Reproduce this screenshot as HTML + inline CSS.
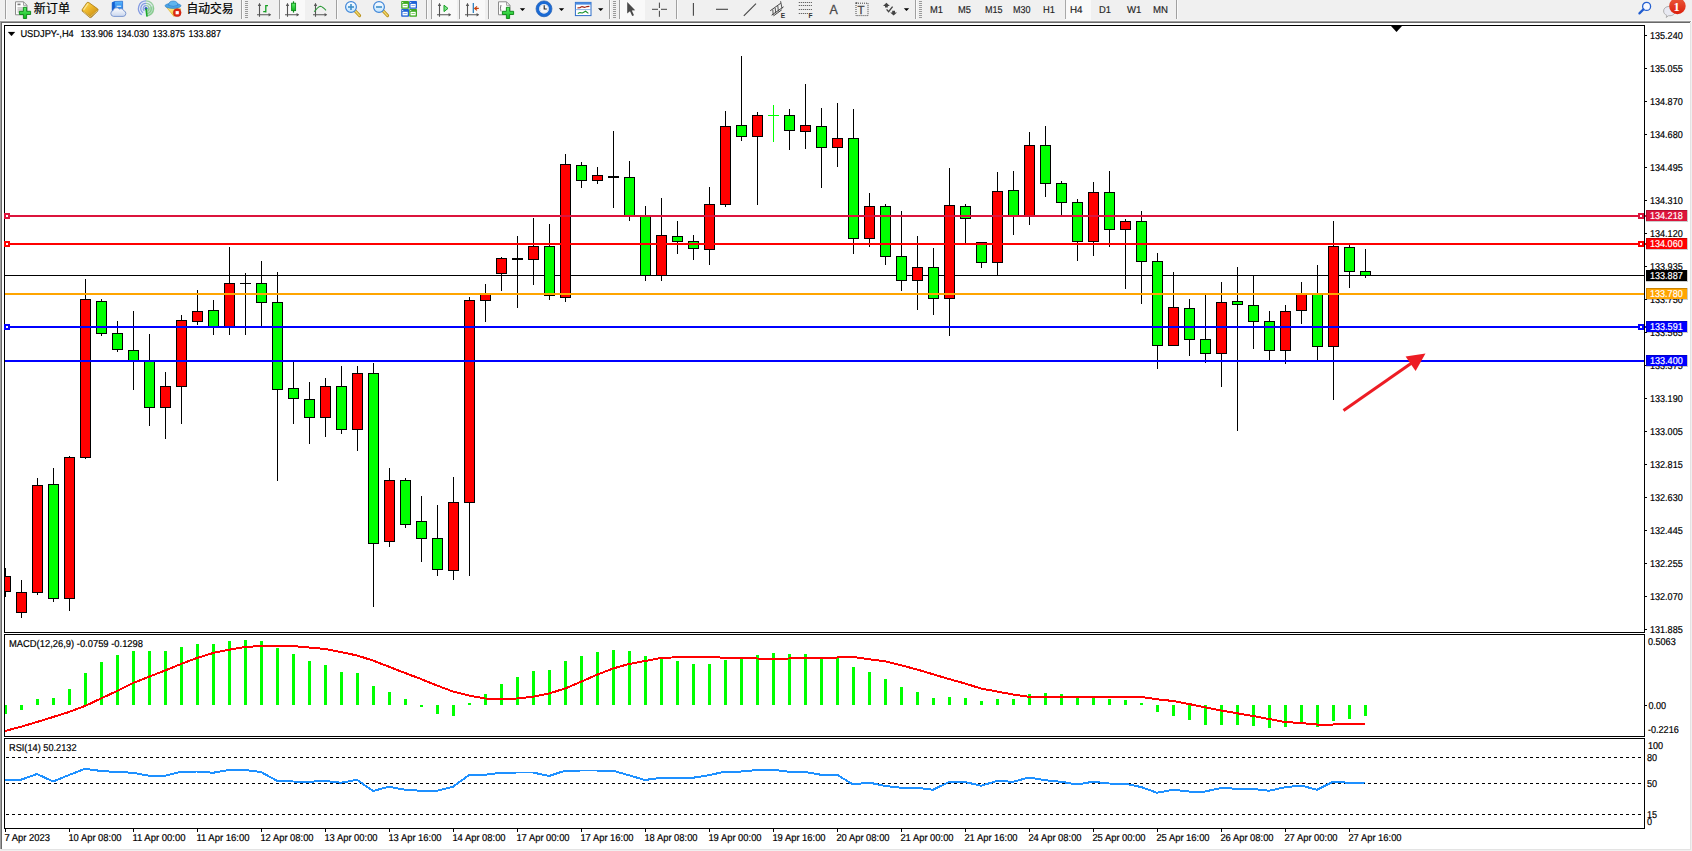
<!DOCTYPE html>
<html><head><meta charset="utf-8"><title>USDJPY-,H4</title>
<style>
html,body{margin:0;padding:0;background:#fff;overflow:hidden}
body{width:1692px;height:851px;font-family:"Liberation Sans","Noto Sans CJK SC",sans-serif}
svg{display:block}
</style></head><body>
<svg width="1692" height="851" viewBox="0 0 1692 851">
<g shape-rendering="crispEdges">
<rect x="0" y="0" width="1692" height="851" fill="#fff"/>
<rect x="0" y="0" width="1692" height="21" fill="#f0f0f0"/>
<rect x="0" y="20" width="1692" height="1" fill="#f7f7f7"/>
<rect x="0" y="21" width="1691" height="1" fill="#a0a0a0"/>
<rect x="0" y="22" width="1690" height="1" fill="#696969"/>
<rect x="0" y="21" width="1" height="830" fill="#a0a0a0"/>
<rect x="1" y="22" width="1" height="828" fill="#696969"/>
<rect x="1690" y="22" width="2" height="829" fill="#f0f0f0"/>
<rect x="0" y="849" width="1692" height="2" fill="#f0f0f0"/>
<rect x="1" y="849" width="1690" height="1" fill="#e3e3e3"/>
<rect x="1690" y="23" width="1" height="827" fill="#e3e3e3"/>
<rect x="4" y="25" width="1641" height="1" fill="#000"/>
<rect x="4" y="632" width="1641" height="1" fill="#000"/>
<rect x="4" y="25" width="1" height="608" fill="#000"/>
<rect x="1644" y="25" width="1" height="608" fill="#000"/>
<rect x="4" y="634" width="1641" height="1" fill="#000"/>
<rect x="4" y="736" width="1641" height="1" fill="#000"/>
<rect x="4" y="634" width="1" height="103" fill="#000"/>
<rect x="1644" y="634" width="1" height="103" fill="#000"/>
<rect x="4" y="738" width="1641" height="1" fill="#000"/>
<rect x="4" y="828" width="1641" height="1" fill="#000"/>
<rect x="4" y="738" width="1" height="91" fill="#000"/>
<rect x="1644" y="738" width="1" height="91" fill="#000"/>
<rect x="5" y="275" width="1639" height="1" fill="#000"/>
<clipPath id="cc"><rect x="5" y="26" width="1639" height="606"/></clipPath>
<g id="candles" clip-path="url(#cc)">
<rect x="5" y="568" width="1" height="29" fill="#000"/>
<rect x="0" y="576" width="11" height="16" fill="#000"/>
<rect x="1" y="577" width="9" height="14" fill="#ff0000"/>
<rect x="21" y="580" width="1" height="38" fill="#000"/>
<rect x="16" y="592" width="11" height="21" fill="#000"/>
<rect x="17" y="593" width="9" height="19" fill="#ff0000"/>
<rect x="37" y="478" width="1" height="117" fill="#000"/>
<rect x="32" y="485" width="11" height="108" fill="#000"/>
<rect x="33" y="486" width="9" height="106" fill="#ff0000"/>
<rect x="53" y="468" width="1" height="134" fill="#000"/>
<rect x="48" y="484" width="11" height="115" fill="#000"/>
<rect x="49" y="485" width="9" height="113" fill="#00ff00"/>
<rect x="69" y="456" width="1" height="155" fill="#000"/>
<rect x="64" y="457" width="11" height="142" fill="#000"/>
<rect x="65" y="458" width="9" height="140" fill="#ff0000"/>
<rect x="85" y="279" width="1" height="180" fill="#000"/>
<rect x="80" y="299" width="11" height="159" fill="#000"/>
<rect x="81" y="300" width="9" height="157" fill="#ff0000"/>
<rect x="101" y="299" width="1" height="37" fill="#000"/>
<rect x="96" y="301" width="11" height="33" fill="#000"/>
<rect x="97" y="302" width="9" height="31" fill="#00ff00"/>
<rect x="117" y="321" width="1" height="31" fill="#000"/>
<rect x="112" y="333" width="11" height="17" fill="#000"/>
<rect x="113" y="334" width="9" height="15" fill="#00ff00"/>
<rect x="133" y="311" width="1" height="79" fill="#000"/>
<rect x="128" y="350" width="11" height="11" fill="#000"/>
<rect x="129" y="351" width="9" height="9" fill="#00ff00"/>
<rect x="149" y="334" width="1" height="92" fill="#000"/>
<rect x="144" y="360" width="11" height="48" fill="#000"/>
<rect x="145" y="361" width="9" height="46" fill="#00ff00"/>
<rect x="165" y="372" width="1" height="67" fill="#000"/>
<rect x="160" y="386" width="11" height="22" fill="#000"/>
<rect x="161" y="387" width="9" height="20" fill="#ff0000"/>
<rect x="181" y="315" width="1" height="109" fill="#000"/>
<rect x="176" y="320" width="11" height="67" fill="#000"/>
<rect x="177" y="321" width="9" height="65" fill="#ff0000"/>
<rect x="197" y="290" width="1" height="35" fill="#000"/>
<rect x="192" y="311" width="11" height="11" fill="#000"/>
<rect x="193" y="312" width="9" height="9" fill="#ff0000"/>
<rect x="213" y="300" width="1" height="35" fill="#000"/>
<rect x="208" y="310" width="11" height="17" fill="#000"/>
<rect x="209" y="311" width="9" height="15" fill="#00ff00"/>
<rect x="229" y="247" width="1" height="88" fill="#000"/>
<rect x="224" y="283" width="11" height="44" fill="#000"/>
<rect x="225" y="284" width="9" height="42" fill="#ff0000"/>
<rect x="245" y="273" width="1" height="62" fill="#000"/>
<rect x="240" y="283" width="11" height="1" fill="#000"/>
<rect x="261" y="261" width="1" height="66" fill="#000"/>
<rect x="256" y="283" width="11" height="20" fill="#000"/>
<rect x="257" y="284" width="9" height="18" fill="#00ff00"/>
<rect x="277" y="272" width="1" height="209" fill="#000"/>
<rect x="272" y="302" width="11" height="88" fill="#000"/>
<rect x="273" y="303" width="9" height="86" fill="#00ff00"/>
<rect x="293" y="362" width="1" height="62" fill="#000"/>
<rect x="288" y="388" width="11" height="11" fill="#000"/>
<rect x="289" y="389" width="9" height="9" fill="#00ff00"/>
<rect x="309" y="382" width="1" height="62" fill="#000"/>
<rect x="304" y="399" width="11" height="19" fill="#000"/>
<rect x="305" y="400" width="9" height="17" fill="#00ff00"/>
<rect x="325" y="378" width="1" height="59" fill="#000"/>
<rect x="320" y="386" width="11" height="32" fill="#000"/>
<rect x="321" y="387" width="9" height="30" fill="#ff0000"/>
<rect x="341" y="366" width="1" height="68" fill="#000"/>
<rect x="336" y="386" width="11" height="44" fill="#000"/>
<rect x="337" y="387" width="9" height="42" fill="#00ff00"/>
<rect x="357" y="366" width="1" height="85" fill="#000"/>
<rect x="352" y="373" width="11" height="57" fill="#000"/>
<rect x="353" y="374" width="9" height="55" fill="#ff0000"/>
<rect x="373" y="363" width="1" height="244" fill="#000"/>
<rect x="368" y="373" width="11" height="171" fill="#000"/>
<rect x="369" y="374" width="9" height="169" fill="#00ff00"/>
<rect x="389" y="468" width="1" height="79" fill="#000"/>
<rect x="384" y="480" width="11" height="62" fill="#000"/>
<rect x="385" y="481" width="9" height="60" fill="#ff0000"/>
<rect x="405" y="478" width="1" height="50" fill="#000"/>
<rect x="400" y="480" width="11" height="45" fill="#000"/>
<rect x="401" y="481" width="9" height="43" fill="#00ff00"/>
<rect x="421" y="496" width="1" height="66" fill="#000"/>
<rect x="416" y="521" width="11" height="18" fill="#000"/>
<rect x="417" y="522" width="9" height="16" fill="#00ff00"/>
<rect x="437" y="505" width="1" height="71" fill="#000"/>
<rect x="432" y="538" width="11" height="32" fill="#000"/>
<rect x="433" y="539" width="9" height="30" fill="#00ff00"/>
<rect x="453" y="477" width="1" height="103" fill="#000"/>
<rect x="448" y="502" width="11" height="69" fill="#000"/>
<rect x="449" y="503" width="9" height="67" fill="#ff0000"/>
<rect x="469" y="297" width="1" height="279" fill="#000"/>
<rect x="464" y="300" width="11" height="203" fill="#000"/>
<rect x="465" y="301" width="9" height="201" fill="#ff0000"/>
<rect x="485" y="284" width="1" height="38" fill="#000"/>
<rect x="480" y="294" width="11" height="7" fill="#000"/>
<rect x="481" y="295" width="9" height="5" fill="#ff0000"/>
<rect x="501" y="257" width="1" height="34" fill="#000"/>
<rect x="496" y="258" width="11" height="16" fill="#000"/>
<rect x="497" y="259" width="9" height="14" fill="#ff0000"/>
<rect x="517" y="236" width="1" height="72" fill="#000"/>
<rect x="512" y="258" width="11" height="2" fill="#000"/>
<rect x="533" y="218" width="1" height="67" fill="#000"/>
<rect x="528" y="246" width="11" height="14" fill="#000"/>
<rect x="529" y="247" width="9" height="12" fill="#ff0000"/>
<rect x="549" y="224" width="1" height="76" fill="#000"/>
<rect x="544" y="246" width="11" height="50" fill="#000"/>
<rect x="545" y="247" width="9" height="48" fill="#00ff00"/>
<rect x="565" y="154" width="1" height="148" fill="#000"/>
<rect x="560" y="164" width="11" height="134" fill="#000"/>
<rect x="561" y="165" width="9" height="132" fill="#ff0000"/>
<rect x="581" y="162" width="1" height="26" fill="#000"/>
<rect x="576" y="165" width="11" height="16" fill="#000"/>
<rect x="577" y="166" width="9" height="14" fill="#00ff00"/>
<rect x="597" y="167" width="1" height="17" fill="#000"/>
<rect x="592" y="175" width="11" height="6" fill="#000"/>
<rect x="593" y="176" width="9" height="4" fill="#ff0000"/>
<rect x="613" y="131" width="1" height="77" fill="#000"/>
<rect x="608" y="176" width="11" height="2" fill="#000"/>
<rect x="629" y="161" width="1" height="60" fill="#000"/>
<rect x="624" y="177" width="11" height="39" fill="#000"/>
<rect x="625" y="178" width="9" height="37" fill="#00ff00"/>
<rect x="645" y="206" width="1" height="75" fill="#000"/>
<rect x="640" y="216" width="11" height="60" fill="#000"/>
<rect x="641" y="217" width="9" height="58" fill="#00ff00"/>
<rect x="661" y="198" width="1" height="83" fill="#000"/>
<rect x="656" y="235" width="11" height="41" fill="#000"/>
<rect x="657" y="236" width="9" height="39" fill="#ff0000"/>
<rect x="677" y="221" width="1" height="33" fill="#000"/>
<rect x="672" y="236" width="11" height="6" fill="#000"/>
<rect x="673" y="237" width="9" height="4" fill="#00ff00"/>
<rect x="693" y="235" width="1" height="25" fill="#000"/>
<rect x="688" y="241" width="11" height="8" fill="#000"/>
<rect x="689" y="242" width="9" height="6" fill="#00ff00"/>
<rect x="709" y="187" width="1" height="78" fill="#000"/>
<rect x="704" y="204" width="11" height="46" fill="#000"/>
<rect x="705" y="205" width="9" height="44" fill="#ff0000"/>
<rect x="725" y="111" width="1" height="96" fill="#000"/>
<rect x="720" y="126" width="11" height="79" fill="#000"/>
<rect x="721" y="127" width="9" height="77" fill="#ff0000"/>
<rect x="741" y="56" width="1" height="85" fill="#000"/>
<rect x="736" y="125" width="11" height="12" fill="#000"/>
<rect x="737" y="126" width="9" height="10" fill="#00ff00"/>
<rect x="757" y="112" width="1" height="93" fill="#000"/>
<rect x="752" y="115" width="11" height="22" fill="#000"/>
<rect x="753" y="116" width="9" height="20" fill="#ff0000"/>
<rect x="773" y="105" width="1" height="37" fill="#00ff00"/>
<rect x="768" y="115" width="11" height="1" fill="#00ff00"/>
<rect x="789" y="109" width="1" height="41" fill="#000"/>
<rect x="784" y="115" width="11" height="16" fill="#000"/>
<rect x="785" y="116" width="9" height="14" fill="#00ff00"/>
<rect x="805" y="84" width="1" height="65" fill="#000"/>
<rect x="800" y="125" width="11" height="7" fill="#000"/>
<rect x="801" y="126" width="9" height="5" fill="#ff0000"/>
<rect x="821" y="108" width="1" height="80" fill="#000"/>
<rect x="816" y="126" width="11" height="22" fill="#000"/>
<rect x="817" y="127" width="9" height="20" fill="#00ff00"/>
<rect x="837" y="103" width="1" height="64" fill="#000"/>
<rect x="832" y="138" width="11" height="10" fill="#000"/>
<rect x="833" y="139" width="9" height="8" fill="#ff0000"/>
<rect x="853" y="109" width="1" height="145" fill="#000"/>
<rect x="848" y="138" width="11" height="101" fill="#000"/>
<rect x="849" y="139" width="9" height="99" fill="#00ff00"/>
<rect x="869" y="193" width="1" height="54" fill="#000"/>
<rect x="864" y="206" width="11" height="33" fill="#000"/>
<rect x="865" y="207" width="9" height="31" fill="#ff0000"/>
<rect x="885" y="204" width="1" height="61" fill="#000"/>
<rect x="880" y="206" width="11" height="51" fill="#000"/>
<rect x="881" y="207" width="9" height="49" fill="#00ff00"/>
<rect x="901" y="211" width="1" height="80" fill="#000"/>
<rect x="896" y="256" width="11" height="25" fill="#000"/>
<rect x="897" y="257" width="9" height="23" fill="#00ff00"/>
<rect x="917" y="236" width="1" height="74" fill="#000"/>
<rect x="912" y="267" width="11" height="14" fill="#000"/>
<rect x="913" y="268" width="9" height="12" fill="#ff0000"/>
<rect x="933" y="248" width="1" height="67" fill="#000"/>
<rect x="928" y="267" width="11" height="32" fill="#000"/>
<rect x="929" y="268" width="9" height="30" fill="#00ff00"/>
<rect x="949" y="168" width="1" height="168" fill="#000"/>
<rect x="944" y="205" width="11" height="94" fill="#000"/>
<rect x="945" y="206" width="9" height="92" fill="#ff0000"/>
<rect x="965" y="204" width="1" height="39" fill="#000"/>
<rect x="960" y="206" width="11" height="13" fill="#000"/>
<rect x="961" y="207" width="9" height="11" fill="#00ff00"/>
<rect x="981" y="242" width="1" height="26" fill="#000"/>
<rect x="976" y="242" width="11" height="21" fill="#000"/>
<rect x="977" y="243" width="9" height="19" fill="#00ff00"/>
<rect x="997" y="172" width="1" height="103" fill="#000"/>
<rect x="992" y="191" width="11" height="72" fill="#000"/>
<rect x="993" y="192" width="9" height="70" fill="#ff0000"/>
<rect x="1013" y="171" width="1" height="64" fill="#000"/>
<rect x="1008" y="190" width="11" height="26" fill="#000"/>
<rect x="1009" y="191" width="9" height="24" fill="#00ff00"/>
<rect x="1029" y="132" width="1" height="93" fill="#000"/>
<rect x="1024" y="145" width="11" height="71" fill="#000"/>
<rect x="1025" y="146" width="9" height="69" fill="#ff0000"/>
<rect x="1045" y="126" width="1" height="71" fill="#000"/>
<rect x="1040" y="145" width="11" height="39" fill="#000"/>
<rect x="1041" y="146" width="9" height="37" fill="#00ff00"/>
<rect x="1061" y="181" width="1" height="35" fill="#000"/>
<rect x="1056" y="183" width="11" height="20" fill="#000"/>
<rect x="1057" y="184" width="9" height="18" fill="#00ff00"/>
<rect x="1077" y="199" width="1" height="62" fill="#000"/>
<rect x="1072" y="202" width="11" height="40" fill="#000"/>
<rect x="1073" y="203" width="9" height="38" fill="#00ff00"/>
<rect x="1093" y="182" width="1" height="74" fill="#000"/>
<rect x="1088" y="192" width="11" height="50" fill="#000"/>
<rect x="1089" y="193" width="9" height="48" fill="#ff0000"/>
<rect x="1109" y="171" width="1" height="76" fill="#000"/>
<rect x="1104" y="192" width="11" height="38" fill="#000"/>
<rect x="1105" y="193" width="9" height="36" fill="#00ff00"/>
<rect x="1125" y="219" width="1" height="70" fill="#000"/>
<rect x="1120" y="221" width="11" height="9" fill="#000"/>
<rect x="1121" y="222" width="9" height="7" fill="#ff0000"/>
<rect x="1141" y="211" width="1" height="93" fill="#000"/>
<rect x="1136" y="221" width="11" height="41" fill="#000"/>
<rect x="1137" y="222" width="9" height="39" fill="#00ff00"/>
<rect x="1157" y="253" width="1" height="116" fill="#000"/>
<rect x="1152" y="261" width="11" height="85" fill="#000"/>
<rect x="1153" y="262" width="9" height="83" fill="#00ff00"/>
<rect x="1173" y="272" width="1" height="74" fill="#000"/>
<rect x="1168" y="307" width="11" height="39" fill="#000"/>
<rect x="1169" y="308" width="9" height="37" fill="#ff0000"/>
<rect x="1189" y="299" width="1" height="57" fill="#000"/>
<rect x="1184" y="308" width="11" height="32" fill="#000"/>
<rect x="1185" y="309" width="9" height="30" fill="#00ff00"/>
<rect x="1205" y="295" width="1" height="68" fill="#000"/>
<rect x="1200" y="339" width="11" height="15" fill="#000"/>
<rect x="1201" y="340" width="9" height="13" fill="#00ff00"/>
<rect x="1221" y="282" width="1" height="105" fill="#000"/>
<rect x="1216" y="302" width="11" height="52" fill="#000"/>
<rect x="1217" y="303" width="9" height="50" fill="#ff0000"/>
<rect x="1237" y="267" width="1" height="164" fill="#000"/>
<rect x="1232" y="301" width="11" height="4" fill="#000"/>
<rect x="1233" y="302" width="9" height="2" fill="#00ff00"/>
<rect x="1253" y="275" width="1" height="74" fill="#000"/>
<rect x="1248" y="305" width="11" height="17" fill="#000"/>
<rect x="1249" y="306" width="9" height="15" fill="#00ff00"/>
<rect x="1269" y="311" width="1" height="50" fill="#000"/>
<rect x="1264" y="321" width="11" height="30" fill="#000"/>
<rect x="1265" y="322" width="9" height="28" fill="#00ff00"/>
<rect x="1285" y="305" width="1" height="59" fill="#000"/>
<rect x="1280" y="311" width="11" height="40" fill="#000"/>
<rect x="1281" y="312" width="9" height="38" fill="#ff0000"/>
<rect x="1301" y="282" width="1" height="42" fill="#000"/>
<rect x="1296" y="293" width="11" height="18" fill="#000"/>
<rect x="1297" y="294" width="9" height="16" fill="#ff0000"/>
<rect x="1317" y="265" width="1" height="96" fill="#000"/>
<rect x="1312" y="293" width="11" height="54" fill="#000"/>
<rect x="1313" y="294" width="9" height="52" fill="#00ff00"/>
<rect x="1333" y="221" width="1" height="179" fill="#000"/>
<rect x="1328" y="246" width="11" height="101" fill="#000"/>
<rect x="1329" y="247" width="9" height="99" fill="#ff0000"/>
<rect x="1349" y="245" width="1" height="43" fill="#000"/>
<rect x="1344" y="247" width="11" height="25" fill="#000"/>
<rect x="1345" y="248" width="9" height="23" fill="#00ff00"/>
<rect x="1365" y="249" width="1" height="29" fill="#000"/>
<rect x="1360" y="271" width="11" height="5" fill="#000"/>
<rect x="1361" y="272" width="9" height="3" fill="#00ff00"/>
</g>
<rect x="5" y="215" width="1639" height="2" fill="#dc143c"/>
<rect x="1645" y="215" width="1" height="2" fill="#dc143c"/>
<rect x="4" y="213" width="6" height="6" fill="#dc143c"/>
<rect x="6" y="215" width="2" height="2" fill="#fff"/>
<rect x="1638" y="213" width="6" height="6" fill="#dc143c"/>
<rect x="1640" y="215" width="2" height="2" fill="#fff"/>
<rect x="5" y="243" width="1639" height="2" fill="#ff0000"/>
<rect x="1645" y="243" width="1" height="2" fill="#ff0000"/>
<rect x="4" y="241" width="6" height="6" fill="#ff0000"/>
<rect x="6" y="243" width="2" height="2" fill="#fff"/>
<rect x="1638" y="241" width="6" height="6" fill="#ff0000"/>
<rect x="1640" y="243" width="2" height="2" fill="#fff"/>
<rect x="5" y="293" width="1639" height="2" fill="#ffa500"/>
<rect x="5" y="326" width="1639" height="2" fill="#0000ff"/>
<rect x="1645" y="326" width="1" height="2" fill="#0000ff"/>
<rect x="4" y="324" width="6" height="6" fill="#0000ff"/>
<rect x="6" y="326" width="2" height="2" fill="#fff"/>
<rect x="1638" y="324" width="6" height="6" fill="#0000ff"/>
<rect x="1640" y="326" width="2" height="2" fill="#fff"/>
<rect x="5" y="360" width="1639" height="2" fill="#0000ff"/>
<polygon points="1391,26 1402,26 1396.5,32" fill="#000" shape-rendering="geometricPrecision"/>
<rect x="4" y="705" width="3" height="9" fill="#00ff00"/>
<rect x="20" y="705" width="3" height="5" fill="#00ff00"/>
<rect x="36" y="699" width="3" height="6" fill="#00ff00"/>
<rect x="52" y="698" width="3" height="7" fill="#00ff00"/>
<rect x="68" y="689" width="3" height="16" fill="#00ff00"/>
<rect x="84" y="673" width="3" height="32" fill="#00ff00"/>
<rect x="100" y="662" width="3" height="43" fill="#00ff00"/>
<rect x="116" y="655" width="3" height="50" fill="#00ff00"/>
<rect x="132" y="651" width="3" height="54" fill="#00ff00"/>
<rect x="148" y="651" width="3" height="54" fill="#00ff00"/>
<rect x="164" y="651" width="3" height="54" fill="#00ff00"/>
<rect x="180" y="647" width="3" height="58" fill="#00ff00"/>
<rect x="196" y="644" width="3" height="61" fill="#00ff00"/>
<rect x="212" y="644" width="3" height="61" fill="#00ff00"/>
<rect x="228" y="641" width="3" height="64" fill="#00ff00"/>
<rect x="244" y="640" width="3" height="65" fill="#00ff00"/>
<rect x="260" y="641" width="3" height="64" fill="#00ff00"/>
<rect x="276" y="648" width="3" height="57" fill="#00ff00"/>
<rect x="292" y="654" width="3" height="51" fill="#00ff00"/>
<rect x="308" y="661" width="3" height="44" fill="#00ff00"/>
<rect x="324" y="665" width="3" height="40" fill="#00ff00"/>
<rect x="340" y="672" width="3" height="33" fill="#00ff00"/>
<rect x="356" y="673" width="3" height="32" fill="#00ff00"/>
<rect x="372" y="686" width="3" height="19" fill="#00ff00"/>
<rect x="388" y="692" width="3" height="13" fill="#00ff00"/>
<rect x="404" y="699" width="3" height="6" fill="#00ff00"/>
<rect x="420" y="705" width="3" height="2" fill="#00ff00"/>
<rect x="436" y="705" width="3" height="9" fill="#00ff00"/>
<rect x="452" y="705" width="3" height="11" fill="#00ff00"/>
<rect x="468" y="703" width="3" height="2" fill="#00ff00"/>
<rect x="484" y="694" width="3" height="11" fill="#00ff00"/>
<rect x="500" y="684" width="3" height="21" fill="#00ff00"/>
<rect x="516" y="677" width="3" height="28" fill="#00ff00"/>
<rect x="532" y="671" width="3" height="34" fill="#00ff00"/>
<rect x="548" y="670" width="3" height="35" fill="#00ff00"/>
<rect x="564" y="661" width="3" height="44" fill="#00ff00"/>
<rect x="580" y="656" width="3" height="49" fill="#00ff00"/>
<rect x="596" y="652" width="3" height="53" fill="#00ff00"/>
<rect x="612" y="650" width="3" height="55" fill="#00ff00"/>
<rect x="628" y="651" width="3" height="54" fill="#00ff00"/>
<rect x="644" y="656" width="3" height="49" fill="#00ff00"/>
<rect x="660" y="658" width="3" height="47" fill="#00ff00"/>
<rect x="676" y="661" width="3" height="44" fill="#00ff00"/>
<rect x="692" y="664" width="3" height="41" fill="#00ff00"/>
<rect x="708" y="664" width="3" height="41" fill="#00ff00"/>
<rect x="724" y="660" width="3" height="45" fill="#00ff00"/>
<rect x="740" y="658" width="3" height="47" fill="#00ff00"/>
<rect x="756" y="655" width="3" height="50" fill="#00ff00"/>
<rect x="772" y="653" width="3" height="52" fill="#00ff00"/>
<rect x="788" y="654" width="3" height="51" fill="#00ff00"/>
<rect x="804" y="654" width="3" height="51" fill="#00ff00"/>
<rect x="820" y="657" width="3" height="48" fill="#00ff00"/>
<rect x="836" y="658" width="3" height="47" fill="#00ff00"/>
<rect x="852" y="667" width="3" height="38" fill="#00ff00"/>
<rect x="868" y="672" width="3" height="33" fill="#00ff00"/>
<rect x="884" y="679" width="3" height="26" fill="#00ff00"/>
<rect x="900" y="687" width="3" height="18" fill="#00ff00"/>
<rect x="916" y="692" width="3" height="13" fill="#00ff00"/>
<rect x="932" y="698" width="3" height="7" fill="#00ff00"/>
<rect x="948" y="697" width="3" height="8" fill="#00ff00"/>
<rect x="964" y="698" width="3" height="7" fill="#00ff00"/>
<rect x="980" y="701" width="3" height="4" fill="#00ff00"/>
<rect x="996" y="699" width="3" height="6" fill="#00ff00"/>
<rect x="1012" y="699" width="3" height="6" fill="#00ff00"/>
<rect x="1028" y="694" width="3" height="11" fill="#00ff00"/>
<rect x="1044" y="693" width="3" height="12" fill="#00ff00"/>
<rect x="1060" y="694" width="3" height="11" fill="#00ff00"/>
<rect x="1076" y="697" width="3" height="8" fill="#00ff00"/>
<rect x="1092" y="697" width="3" height="8" fill="#00ff00"/>
<rect x="1108" y="699" width="3" height="6" fill="#00ff00"/>
<rect x="1124" y="700" width="3" height="5" fill="#00ff00"/>
<rect x="1140" y="703" width="3" height="2" fill="#00ff00"/>
<rect x="1156" y="705" width="3" height="7" fill="#00ff00"/>
<rect x="1172" y="705" width="3" height="11" fill="#00ff00"/>
<rect x="1188" y="705" width="3" height="15" fill="#00ff00"/>
<rect x="1204" y="705" width="3" height="20" fill="#00ff00"/>
<rect x="1220" y="705" width="3" height="20" fill="#00ff00"/>
<rect x="1236" y="705" width="3" height="20" fill="#00ff00"/>
<rect x="1252" y="705" width="3" height="21" fill="#00ff00"/>
<rect x="1268" y="705" width="3" height="23" fill="#00ff00"/>
<rect x="1284" y="705" width="3" height="22" fill="#00ff00"/>
<rect x="1300" y="705" width="3" height="19" fill="#00ff00"/>
<rect x="1316" y="705" width="3" height="22" fill="#00ff00"/>
<rect x="1332" y="705" width="3" height="16" fill="#00ff00"/>
<rect x="1348" y="705" width="3" height="14" fill="#00ff00"/>
<rect x="1364" y="705" width="3" height="11" fill="#00ff00"/>
<rect x="4" y="634" width="1" height="103" fill="#000"/>
<rect x="1645" y="35" width="2" height="1" fill="#000"/>
<rect x="1645" y="68" width="2" height="1" fill="#000"/>
<rect x="1645" y="101" width="2" height="1" fill="#000"/>
<rect x="1645" y="134" width="2" height="1" fill="#000"/>
<rect x="1645" y="167" width="2" height="1" fill="#000"/>
<rect x="1645" y="200" width="2" height="1" fill="#000"/>
<rect x="1645" y="233" width="2" height="1" fill="#000"/>
<rect x="1645" y="266" width="2" height="1" fill="#000"/>
<rect x="1645" y="299" width="2" height="1" fill="#000"/>
<rect x="1645" y="332" width="2" height="1" fill="#000"/>
<rect x="1645" y="365" width="2" height="1" fill="#000"/>
<rect x="1645" y="398" width="2" height="1" fill="#000"/>
<rect x="1645" y="431" width="2" height="1" fill="#000"/>
<rect x="1645" y="464" width="2" height="1" fill="#000"/>
<rect x="1645" y="497" width="2" height="1" fill="#000"/>
<rect x="1645" y="530" width="2" height="1" fill="#000"/>
<rect x="1645" y="563" width="2" height="1" fill="#000"/>
<rect x="1645" y="596" width="2" height="1" fill="#000"/>
<rect x="1645" y="629" width="2" height="1" fill="#000"/>
<rect x="1645" y="705" width="2" height="1" fill="#000"/>
<rect x="5" y="829" width="1" height="3" fill="#000"/>
<rect x="69" y="829" width="1" height="3" fill="#000"/>
<rect x="133" y="829" width="1" height="3" fill="#000"/>
<rect x="197" y="829" width="1" height="3" fill="#000"/>
<rect x="261" y="829" width="1" height="3" fill="#000"/>
<rect x="325" y="829" width="1" height="3" fill="#000"/>
<rect x="389" y="829" width="1" height="3" fill="#000"/>
<rect x="453" y="829" width="1" height="3" fill="#000"/>
<rect x="517" y="829" width="1" height="3" fill="#000"/>
<rect x="581" y="829" width="1" height="3" fill="#000"/>
<rect x="645" y="829" width="1" height="3" fill="#000"/>
<rect x="709" y="829" width="1" height="3" fill="#000"/>
<rect x="773" y="829" width="1" height="3" fill="#000"/>
<rect x="837" y="829" width="1" height="3" fill="#000"/>
<rect x="901" y="829" width="1" height="3" fill="#000"/>
<rect x="965" y="829" width="1" height="3" fill="#000"/>
<rect x="1029" y="829" width="1" height="3" fill="#000"/>
<rect x="1093" y="829" width="1" height="3" fill="#000"/>
<rect x="1157" y="829" width="1" height="3" fill="#000"/>
<rect x="1221" y="829" width="1" height="3" fill="#000"/>
<rect x="1285" y="829" width="1" height="3" fill="#000"/>
<rect x="1349" y="829" width="1" height="3" fill="#000"/>
</g>
<line x1="6" y1="757.5" x2="1644" y2="757.5" stroke="#000" stroke-width="1" stroke-dasharray="3 3" shape-rendering="crispEdges"/>
<line x1="6" y1="783.5" x2="1644" y2="783.5" stroke="#000" stroke-width="1" stroke-dasharray="3 3" shape-rendering="crispEdges"/>
<line x1="6" y1="814.5" x2="1644" y2="814.5" stroke="#000" stroke-width="1" stroke-dasharray="3 3" shape-rendering="crispEdges"/>
<polyline points="5,731 21,726.75 37,722 53,717 69,712 85,706 101,698.5 117,691 133,683 149,676.75 165,670.5 181,664 197,658 213,653 229,649.75 245,647 261,646 277,645.5 293,646 309,647.5 325,649 341,652 357,655.5 373,660.5 389,666.75 405,673 421,679 437,685.5 453,691.5 469,695.5 485,698.5 501,698.75 517,698.5 533,696.75 549,693.5 565,688.5 581,681.75 597,674.75 613,668.5 629,664 645,661 661,658 677,657.25 693,657 709,657 725,657.75 741,658 757,658.5 773,658.75 789,658.5 805,658 821,658 837,657.5 853,657 869,659.25 885,661.25 901,665.25 917,669.5 933,674.25 949,679 965,683.5 981,688.5 997,691.5 1013,694.5 1029,696.75 1045,697 1061,697 1077,697 1093,697 1109,697 1125,697 1141,697 1157,699.25 1173,701 1189,704 1205,707.25 1221,710.5 1237,713.25 1253,716 1269,719 1285,722 1301,723 1317,724.5 1333,724.5 1349,724.25 1365,723.5" fill="none" stroke="#ff0000" stroke-width="2" stroke-linejoin="round" shape-rendering="crispEdges"/>
<polyline points="5,779.75 21,779.75 37,774 53,781.5 69,775 85,768.75 101,771 117,772 133,772.75 149,775.75 165,775.75 181,771.75 197,771.5 213,772.75 229,770 245,770 261,772 277,780.75 293,781.5 309,781.75 325,781 341,782.75 357,779.75 373,791 389,786.75 405,789.75 421,790.75 437,790.75 453,786.75 469,775 485,774.75 501,772.75 517,772.5 533,772.5 549,776 565,770.75 581,770.5 597,770.5 613,770.75 629,775.25 645,780 661,777.75 677,777.75 693,777.75 709,775.25 725,771.5 741,771.5 757,770 773,769.75 789,771.75 805,772 821,774.75 837,774.75 853,784.5 869,782.5 885,786 901,787.75 917,787.75 933,789.75 949,782 965,782 981,785.75 997,781 1013,781.75 1029,777.5 1045,780.25 1061,781.75 1077,784.5 1093,781.75 1109,783.5 1125,783.75 1141,787 1157,792.75 1173,789.75 1189,791.5 1205,791.5 1221,788 1237,788.75 1253,789 1269,790.75 1285,787.25 1301,785.5 1317,789.75 1333,781.75 1349,782.75 1365,782.5" fill="none" stroke="#1e90ff" stroke-width="2" stroke-linejoin="round" shape-rendering="crispEdges"/>
<line x1="1343.5" y1="410.4" x2="1412" y2="362.8" stroke="#ed1c24" stroke-width="3"/>
<polygon points="1425.5,353.6 1405.6,356.5 1415.6,371" fill="#ed1c24"/>
<g font-family="'Liberation Sans', Arial, sans-serif" font-size="10px" text-rendering="geometricPrecision" fill="#000" stroke="#000" stroke-width="0.2">
<text transform="translate(1650,39) scale(0.905,1)">135.240</text>
<text transform="translate(1650,72) scale(0.905,1)">135.055</text>
<text transform="translate(1650,105) scale(0.905,1)">134.870</text>
<text transform="translate(1650,138) scale(0.905,1)">134.680</text>
<text transform="translate(1650,171) scale(0.905,1)">134.495</text>
<text transform="translate(1650,204) scale(0.905,1)">134.310</text>
<text transform="translate(1650,237) scale(0.905,1)">134.120</text>
<text transform="translate(1650,270) scale(0.905,1)">133.935</text>
<text transform="translate(1650,303) scale(0.905,1)">133.750</text>
<text transform="translate(1650,336) scale(0.905,1)">133.565</text>
<text transform="translate(1650,369) scale(0.905,1)">133.375</text>
<text transform="translate(1650,402) scale(0.905,1)">133.190</text>
<text transform="translate(1650,435) scale(0.905,1)">133.005</text>
<text transform="translate(1650,468) scale(0.905,1)">132.815</text>
<text transform="translate(1650,501) scale(0.905,1)">132.630</text>
<text transform="translate(1650,534) scale(0.905,1)">132.445</text>
<text transform="translate(1650,567) scale(0.905,1)">132.255</text>
<text transform="translate(1650,600) scale(0.905,1)">132.070</text>
<text transform="translate(1650,633) scale(0.905,1)">131.885</text>
<rect x="1646" y="210" width="41" height="11" fill="#dc143c" shape-rendering="crispEdges"/>
<text transform="translate(1650,219) scale(0.905,1)" fill="#fff" stroke="#fff">134.218</text>
<rect x="1646" y="238" width="41" height="11" fill="#ff0000" shape-rendering="crispEdges"/>
<text transform="translate(1650,247) scale(0.905,1)" fill="#fff" stroke="#fff">134.060</text>
<rect x="1646" y="270" width="41" height="11" fill="#000" shape-rendering="crispEdges"/>
<text transform="translate(1650,279) scale(0.905,1)" fill="#fff" stroke="#fff">133.887</text>
<rect x="1646" y="288" width="41" height="11" fill="#ffa500" shape-rendering="crispEdges"/>
<text transform="translate(1650,297) scale(0.905,1)" fill="#fff" stroke="#fff">133.780</text>
<rect x="1646" y="321" width="41" height="11" fill="#0000ff" shape-rendering="crispEdges"/>
<text transform="translate(1650,330) scale(0.905,1)" fill="#fff" stroke="#fff">133.591</text>
<rect x="1646" y="355" width="41" height="11" fill="#0000ff" shape-rendering="crispEdges"/>
<text transform="translate(1650,364) scale(0.905,1)" fill="#fff" stroke="#fff">133.400</text>
<text transform="translate(1648,645) scale(0.905,1)">0.5063</text>
<text transform="translate(1648.4,709) scale(0.905,1)">0.00</text>
<text transform="translate(1648,733) scale(0.905,1)">-0.2216</text>
<text transform="translate(1648,749) scale(0.905,1)">100</text>
<text transform="translate(1647,761) scale(0.905,1)">80</text>
<text transform="translate(1647,787) scale(0.905,1)">50</text>
<text transform="translate(1647,818) scale(0.905,1)">15</text>
<text transform="translate(1647,825) scale(0.905,1)">0</text>
<text x="20.4" y="37" textLength="53.4" lengthAdjust="spacingAndGlyphs">USDJPY-,H4</text>
<text x="80.6" y="37" textLength="32.4" lengthAdjust="spacingAndGlyphs">133.906</text>
<text x="116.6" y="37" textLength="32.4" lengthAdjust="spacingAndGlyphs">134.030</text>
<text x="152.6" y="37" textLength="32.4" lengthAdjust="spacingAndGlyphs">133.875</text>
<text x="188.6" y="37" textLength="32.4" lengthAdjust="spacingAndGlyphs">133.887</text>
<polygon points="8,32 15,32 11.5,36" fill="#000"/>
<text x="9" y="647" textLength="134" lengthAdjust="spacingAndGlyphs">MACD(12,26,9) -0.0759 -0.1298</text>
<text x="9" y="750.6" textLength="67.6" lengthAdjust="spacingAndGlyphs">RSI(14) 50.2132</text>
<text x="4.4" y="841" textLength="45.6" lengthAdjust="spacingAndGlyphs">7 Apr 2023</text>
<text x="68.4" y="841" textLength="53.2" lengthAdjust="spacingAndGlyphs">10 Apr 08:00</text>
<text x="132.4" y="841" textLength="53.2" lengthAdjust="spacingAndGlyphs">11 Apr 00:00</text>
<text x="196.4" y="841" textLength="53.2" lengthAdjust="spacingAndGlyphs">11 Apr 16:00</text>
<text x="260.4" y="841" textLength="53.2" lengthAdjust="spacingAndGlyphs">12 Apr 08:00</text>
<text x="324.4" y="841" textLength="53.2" lengthAdjust="spacingAndGlyphs">13 Apr 00:00</text>
<text x="388.4" y="841" textLength="53.2" lengthAdjust="spacingAndGlyphs">13 Apr 16:00</text>
<text x="452.4" y="841" textLength="53.2" lengthAdjust="spacingAndGlyphs">14 Apr 08:00</text>
<text x="516.4" y="841" textLength="53.2" lengthAdjust="spacingAndGlyphs">17 Apr 00:00</text>
<text x="580.4" y="841" textLength="53.2" lengthAdjust="spacingAndGlyphs">17 Apr 16:00</text>
<text x="644.4" y="841" textLength="53.2" lengthAdjust="spacingAndGlyphs">18 Apr 08:00</text>
<text x="708.4" y="841" textLength="53.2" lengthAdjust="spacingAndGlyphs">19 Apr 00:00</text>
<text x="772.4" y="841" textLength="53.2" lengthAdjust="spacingAndGlyphs">19 Apr 16:00</text>
<text x="836.4" y="841" textLength="53.2" lengthAdjust="spacingAndGlyphs">20 Apr 08:00</text>
<text x="900.4" y="841" textLength="53.2" lengthAdjust="spacingAndGlyphs">21 Apr 00:00</text>
<text x="964.4" y="841" textLength="53.2" lengthAdjust="spacingAndGlyphs">21 Apr 16:00</text>
<text x="1028.4" y="841" textLength="53.2" lengthAdjust="spacingAndGlyphs">24 Apr 08:00</text>
<text x="1092.4" y="841" textLength="53.2" lengthAdjust="spacingAndGlyphs">25 Apr 00:00</text>
<text x="1156.4" y="841" textLength="53.2" lengthAdjust="spacingAndGlyphs">25 Apr 16:00</text>
<text x="1220.4" y="841" textLength="53.2" lengthAdjust="spacingAndGlyphs">26 Apr 08:00</text>
<text x="1284.4" y="841" textLength="53.2" lengthAdjust="spacingAndGlyphs">27 Apr 00:00</text>
<text x="1348.4" y="841" textLength="53.2" lengthAdjust="spacingAndGlyphs">27 Apr 16:00</text>
</g>
<defs>
<linearGradient id="gGreen" x1="0" y1="0" x2="0" y2="1"><stop offset="0" stop-color="#5cf06a"/><stop offset="1" stop-color="#10b51c"/></linearGradient>
<linearGradient id="gGold" x1="0" y1="0" x2="1" y2="1"><stop offset="0" stop-color="#ffe25e"/><stop offset="0.45" stop-color="#eeb82c"/><stop offset="1" stop-color="#c08410"/></linearGradient>
<linearGradient id="gBlue" x1="0" y1="0" x2="0" y2="1"><stop offset="0" stop-color="#59b7ff"/><stop offset="1" stop-color="#1570e0"/></linearGradient>
<linearGradient id="gRed" x1="0" y1="0" x2="0" y2="1"><stop offset="0" stop-color="#ea5a3a"/><stop offset="1" stop-color="#dc1f0c"/></linearGradient>
<linearGradient id="gLens" x1="0" y1="0" x2="0" y2="1"><stop offset="0" stop-color="#ffffff"/><stop offset="1" stop-color="#bfe3ff"/></linearGradient>
<linearGradient id="gCloud" x1="0" y1="0" x2="0" y2="1"><stop offset="0" stop-color="#ffffff"/><stop offset="1" stop-color="#c9d6ee"/></linearGradient>
<linearGradient id="gYel" x1="0" y1="0" x2="1" y2="1"><stop offset="0" stop-color="#fff29a"/><stop offset="1" stop-color="#f0b818"/></linearGradient>
</defs>
<g id="toolbar">
<rect x="280" y="0" width="25" height="20" fill="#f9f9f9" shape-rendering="crispEdges"/>
<rect x="432" y="0" width="25" height="20" fill="#f9f9f9" shape-rendering="crispEdges"/>
<rect x="460" y="0" width="25" height="20" fill="#f9f9f9" shape-rendering="crispEdges"/>
<rect x="620" y="0" width="25" height="20" fill="#f9f9f9" shape-rendering="crispEdges"/>
<rect x="1065" y="0" width="26" height="20" fill="#f9f9f9" shape-rendering="crispEdges"/>
<rect x="5" y="0" width="1" height="19" fill="#a0a0a0" shape-rendering="crispEdges"/>
<rect x="6" y="0" width="1" height="19" fill="#fafafa" shape-rendering="crispEdges"/>
<rect x="241" y="0" width="1" height="19" fill="#a0a0a0" shape-rendering="crispEdges"/>
<rect x="242" y="0" width="1" height="19" fill="#fafafa" shape-rendering="crispEdges"/>
<rect x="279" y="0" width="1" height="19" fill="#a0a0a0" shape-rendering="crispEdges"/>
<rect x="280" y="0" width="1" height="19" fill="#fafafa" shape-rendering="crispEdges"/>
<rect x="336" y="0" width="1" height="19" fill="#a0a0a0" shape-rendering="crispEdges"/>
<rect x="337" y="0" width="1" height="19" fill="#fafafa" shape-rendering="crispEdges"/>
<rect x="426" y="0" width="1" height="19" fill="#a0a0a0" shape-rendering="crispEdges"/>
<rect x="427" y="0" width="1" height="19" fill="#fafafa" shape-rendering="crispEdges"/>
<rect x="431" y="0" width="1" height="19" fill="#a0a0a0" shape-rendering="crispEdges"/>
<rect x="432" y="0" width="1" height="19" fill="#fafafa" shape-rendering="crispEdges"/>
<rect x="459" y="0" width="1" height="19" fill="#a0a0a0" shape-rendering="crispEdges"/>
<rect x="460" y="0" width="1" height="19" fill="#fafafa" shape-rendering="crispEdges"/>
<rect x="488" y="0" width="1" height="19" fill="#a0a0a0" shape-rendering="crispEdges"/>
<rect x="489" y="0" width="1" height="19" fill="#fafafa" shape-rendering="crispEdges"/>
<rect x="609" y="0" width="1" height="19" fill="#a0a0a0" shape-rendering="crispEdges"/>
<rect x="610" y="0" width="1" height="19" fill="#fafafa" shape-rendering="crispEdges"/>
<rect x="619" y="0" width="1" height="19" fill="#a0a0a0" shape-rendering="crispEdges"/>
<rect x="620" y="0" width="1" height="19" fill="#fafafa" shape-rendering="crispEdges"/>
<rect x="676" y="0" width="1" height="19" fill="#a0a0a0" shape-rendering="crispEdges"/>
<rect x="677" y="0" width="1" height="19" fill="#fafafa" shape-rendering="crispEdges"/>
<rect x="915" y="0" width="1" height="19" fill="#a0a0a0" shape-rendering="crispEdges"/>
<rect x="916" y="0" width="1" height="19" fill="#fafafa" shape-rendering="crispEdges"/>
<rect x="1176" y="0" width="1" height="19" fill="#a0a0a0" shape-rendering="crispEdges"/>
<rect x="1177" y="0" width="1" height="19" fill="#fafafa" shape-rendering="crispEdges"/>
<rect x="245" y="1" width="3" height="1" fill="#9a9a9a" shape-rendering="crispEdges"/>
<rect x="245" y="3" width="3" height="1" fill="#9a9a9a" shape-rendering="crispEdges"/>
<rect x="245" y="5" width="3" height="1" fill="#9a9a9a" shape-rendering="crispEdges"/>
<rect x="245" y="7" width="3" height="1" fill="#9a9a9a" shape-rendering="crispEdges"/>
<rect x="245" y="9" width="3" height="1" fill="#9a9a9a" shape-rendering="crispEdges"/>
<rect x="245" y="11" width="3" height="1" fill="#9a9a9a" shape-rendering="crispEdges"/>
<rect x="245" y="13" width="3" height="1" fill="#9a9a9a" shape-rendering="crispEdges"/>
<rect x="245" y="15" width="3" height="1" fill="#9a9a9a" shape-rendering="crispEdges"/>
<rect x="245" y="17" width="3" height="1" fill="#9a9a9a" shape-rendering="crispEdges"/>
<rect x="613" y="1" width="3" height="1" fill="#9a9a9a" shape-rendering="crispEdges"/>
<rect x="613" y="3" width="3" height="1" fill="#9a9a9a" shape-rendering="crispEdges"/>
<rect x="613" y="5" width="3" height="1" fill="#9a9a9a" shape-rendering="crispEdges"/>
<rect x="613" y="7" width="3" height="1" fill="#9a9a9a" shape-rendering="crispEdges"/>
<rect x="613" y="9" width="3" height="1" fill="#9a9a9a" shape-rendering="crispEdges"/>
<rect x="613" y="11" width="3" height="1" fill="#9a9a9a" shape-rendering="crispEdges"/>
<rect x="613" y="13" width="3" height="1" fill="#9a9a9a" shape-rendering="crispEdges"/>
<rect x="613" y="15" width="3" height="1" fill="#9a9a9a" shape-rendering="crispEdges"/>
<rect x="613" y="17" width="3" height="1" fill="#9a9a9a" shape-rendering="crispEdges"/>
<rect x="919" y="1" width="3" height="1" fill="#9a9a9a" shape-rendering="crispEdges"/>
<rect x="919" y="3" width="3" height="1" fill="#9a9a9a" shape-rendering="crispEdges"/>
<rect x="919" y="5" width="3" height="1" fill="#9a9a9a" shape-rendering="crispEdges"/>
<rect x="919" y="7" width="3" height="1" fill="#9a9a9a" shape-rendering="crispEdges"/>
<rect x="919" y="9" width="3" height="1" fill="#9a9a9a" shape-rendering="crispEdges"/>
<rect x="919" y="11" width="3" height="1" fill="#9a9a9a" shape-rendering="crispEdges"/>
<rect x="919" y="13" width="3" height="1" fill="#9a9a9a" shape-rendering="crispEdges"/>
<rect x="919" y="15" width="3" height="1" fill="#9a9a9a" shape-rendering="crispEdges"/>
<rect x="919" y="17" width="3" height="1" fill="#9a9a9a" shape-rendering="crispEdges"/>
<rect x="1065" y="0" width="1" height="19" fill="#a8a8a8" shape-rendering="crispEdges"/>
<path d="M15.5,1.8 h8 l3.5,3.5 v9.5 h-11.5 z" fill="#fdfdfd" stroke="#8c8c8c" stroke-width="1"/>
<path d="M23.5,1.8 v3.5 h3.5" fill="none" stroke="#8c8c8c" stroke-width="0.8"/>
<rect x="17.5" y="3.6" width="3" height="1.6" fill="#777"/>
<rect x="17.5" y="7.5" width="6" height="0.9" fill="#9a9a9a"/>
<rect x="17.5" y="9.5" width="6" height="0.9" fill="#9a9a9a"/>
<rect x="17.5" y="11.5" width="6" height="0.9" fill="#9a9a9a"/>
<path d="M23.4,7.300000000000001 h3.2 v4 h4 v3.2 h-4 v4 h-3.2 v-4 h-4 v-3.2 h4 z" fill="url(#gGreen)" stroke="#0a8414" stroke-width="0.9" stroke-linejoin="miter"/>
<path d="M82.3,11.2 L89.6,17.4 Q90.6,18 91.6,17.2 L97.9,11 L97.9,9.6 L90.4,16 L82.3,9.8 Z" fill="#b07c12" stroke="#8f640c" stroke-width="0.5"/>
<path d="M86.9,2.7 Q87.9,2 88.9,2.6 L97.6,8.8 Q98.3,9.6 97.7,10.4 L91.4,16 Q90.4,16.7 89.4,16 L82.4,10.8 Q81.8,10 82.4,9.2 Z" fill="url(#gGold)" stroke="#a87812" stroke-width="0.8"/>
<path d="M83.2,11.6 L90.2,16.9 L97.6,10.6" fill="none" stroke="#f3dc8c" stroke-width="0.7"/>
<path d="M84,9.4 L87.8,4" stroke="#fff3b8" stroke-width="1.2" opacity="0.7" stroke-linecap="round"/>
<path d="M112.2,2.6 L114.8,1.5 L122.6,1.2 L122.6,10.8 L112.2,10.8 Z" fill="url(#gBlue)" stroke="#1a66d0" stroke-width="0.7"/>
<path d="M112.2,2.6 L114.8,1.5 L114.8,10.8 L112.2,10.8 Z" fill="#1560d0"/>
<rect x="116.6" y="5.7" width="4.6" height="1.1" fill="#e6f4ff"/>
<path d="M113.6,16.4 a3,3 0 0 1 -0.5,-5.9 a3.7,3.7 0 0 1 6.4,-1.4 a2.8,2.8 0 0 1 4.2,1.6 a2.9,2.9 0 0 1 -0.5,5.7 z" fill="url(#gCloud)" stroke="#7290cc" stroke-width="0.9"/>
<circle cx="146" cy="8.5" r="8" fill="#e3ebf8" opacity="0.8"/>
<path d="M146,8.5 L153.4,5.9 A7.8,7.8 0 0 1 147,16.3 Z" fill="#8fd49a" opacity="0.55"/>
<path d="M146,0.9000000000000004 A7.6,7.6 0 0 0 141.82,14.808" fill="none" stroke="#5a78d8" stroke-width="1.3" opacity="0.7"/>
<path d="M146,0.9000000000000004 A7.6,7.6 0 0 1 146.2,16.1" fill="none" stroke="#58b85a" stroke-width="1.3" opacity="0.55"/>
<path d="M146,3.3 A5.2,5.2 0 0 0 143.14,12.815999999999999" fill="none" stroke="#5a78d8" stroke-width="1.2" opacity="0.7"/>
<path d="M146,3.3 A5.2,5.2 0 0 1 146.2,13.7" fill="none" stroke="#58b85a" stroke-width="1.2" opacity="0.55"/>
<path d="M146,5.6 A2.9,2.9 0 0 0 144.405,10.907" fill="none" stroke="#5a78d8" stroke-width="1.1" opacity="0.7"/>
<path d="M146,5.6 A2.9,2.9 0 0 1 146.2,11.4" fill="none" stroke="#58b85a" stroke-width="1.1" opacity="0.55"/>
<circle cx="146" cy="8.5" r="1.5" fill="#2a55d0"/>
<path d="M146,8.5 L147,16.5 " stroke="#1fa82a" stroke-width="1.6" fill="none"/>
<path d="M166.5,7.2 L174,16.5 L181,9 Z" fill="url(#gYel)" stroke="#d8a010" stroke-width="0.6"/>
<ellipse cx="173" cy="5.8" rx="8" ry="2.6" fill="#4aa3e6" stroke="#2a7cc4" stroke-width="0.6"/>
<path d="M168.6,5.4 Q168.6,1 173.2,1 Q177.8,1 177.8,5.4 Q173.2,7.2 168.6,5.4 Z" fill="#5fb4ee" stroke="#2a7cc4" stroke-width="0.6"/>
<circle cx="177.2" cy="12.7" r="3.9" fill="#e02a14" stroke="#b81808" stroke-width="0.5"/>
<rect x="175.6" y="11.1" width="3.2" height="3.2" fill="#fff"/>
<path d="M259.5,3.6 V16.8 M257,14.7 H270.3" stroke="#555" stroke-width="1.1" fill="none"/>
<path d="M257.8,6 L259.5,3 L261.2,6 Z M268.6,13 L271.2,14.7 L268.6,16.4 Z" fill="#555"/>
<path d="M287.5,3.6 V16.8 M285,14.7 H298.3" stroke="#555" stroke-width="1.1" fill="none"/>
<path d="M285.8,6 L287.5,3 L289.2,6 Z M296.6,13 L299.2,14.7 L296.6,16.4 Z" fill="#555"/>
<path d="M315.5,3.6 V16.8 M313,14.7 H326.3" stroke="#555" stroke-width="1.1" fill="none"/>
<path d="M313.8,6 L315.5,3 L317.2,6 Z M324.6,13 L327.2,14.7 L324.6,16.4 Z" fill="#555"/>
<path d="M439.5,3.6 V16.8 M437,14.7 H450.3" stroke="#555" stroke-width="1.1" fill="none"/>
<path d="M437.8,6 L439.5,3 L441.2,6 Z M448.6,13 L451.2,14.7 L448.6,16.4 Z" fill="#555"/>
<path d="M467.5,3.6 V16.8 M465,14.7 H478.3" stroke="#555" stroke-width="1.1" fill="none"/>
<path d="M465.8,6 L467.5,3 L469.2,6 Z M476.6,13 L479.2,14.7 L476.6,16.4 Z" fill="#555"/>
<path d="M265.8,5 V12.6 M265.8,5.6 H268 M263.2,11.6 H265.8" stroke="#15a022" stroke-width="1.3" fill="none"/>
<path d="M293.5,1.3 V12.6" stroke="#0f8a1a" stroke-width="1.2"/>
<rect x="291.6" y="3.2" width="4" height="7.4" fill="url(#gGreen)" stroke="#0f8a1a" stroke-width="0.9"/>
<path d="M314.2,11.8 Q318,6.6 320.4,6.2 Q322.5,6.5 326,10.4" stroke="#2c9a38" stroke-width="1.1" fill="none"/>
<path d="M354.6,10.4 L359.6,15.6" stroke="#b8901a" stroke-width="3" stroke-linecap="round"/>
<path d="M354.8,10.6 L359.4,15.4" stroke="#f2d86a" stroke-width="1.4" stroke-linecap="round"/>
<circle cx="351" cy="7" r="5.4" fill="url(#gLens)" stroke="#3f86d8" stroke-width="1.2"/>
<path d="M348,7 H354" stroke="#3f8fc8" stroke-width="1.6"/>
<path d="M351,4 V10" stroke="#3f8fc8" stroke-width="1.6"/>
<path d="M382.6,10.4 L387.6,15.6" stroke="#b8901a" stroke-width="3" stroke-linecap="round"/>
<path d="M382.8,10.6 L387.4,15.4" stroke="#f2d86a" stroke-width="1.4" stroke-linecap="round"/>
<circle cx="379" cy="7" r="5.4" fill="url(#gLens)" stroke="#3f86d8" stroke-width="1.2"/>
<path d="M376,7 H382" stroke="#3f8fc8" stroke-width="1.6"/>
<rect x="401.2" y="1.1" width="7.8" height="7.7" rx="0.8" fill="#3faa22"/>
<rect x="402.5" y="3.9" width="5.2" height="3.6" fill="#fff"/>
<rect x="403.4" y="5.1" width="3.4" height="0.9" fill="#7acb5e"/>
<rect x="402.2" y="2.1" width="1" height="0.9" fill="#fff"/>
<rect x="409.2" y="1.1" width="7.8" height="7.7" rx="0.8" fill="#1f62d6"/>
<rect x="410.5" y="3.9" width="5.2" height="3.6" fill="#fff"/>
<rect x="411.4" y="5.1" width="3.4" height="0.9" fill="#7aa6ee"/>
<rect x="410.2" y="2.1" width="1" height="0.9" fill="#fff"/>
<rect x="401.2" y="9" width="7.8" height="7.7" rx="0.8" fill="#1f62d6"/>
<rect x="402.5" y="11.8" width="5.2" height="3.6" fill="#fff"/>
<rect x="403.4" y="13" width="3.4" height="0.9" fill="#7aa6ee"/>
<rect x="402.2" y="10" width="1" height="0.9" fill="#fff"/>
<rect x="409.2" y="9" width="7.8" height="7.7" rx="0.8" fill="#3faa22"/>
<rect x="410.5" y="11.8" width="5.2" height="3.6" fill="#fff"/>
<rect x="411.4" y="13" width="3.4" height="0.9" fill="#7acb5e"/>
<rect x="410.2" y="10" width="1" height="0.9" fill="#fff"/>
<path d="M444,5.2 L448,8.4 L444,11.6 Z" fill="#7fe08a" stroke="#17a024" stroke-width="1"/>
<path d="M473.3,3 V13" stroke="#1f78b8" stroke-width="1.2"/>
<path d="M474.4,8.4 H478.8 M477,6.4 L474.6,8.4 L477,10.4" stroke="#c8400a" stroke-width="1.1" fill="none"/>
<path d="M498.5,1.8 h8 l3.5,3.5 v9.5 h-11.5 z" fill="#fdfdfd" stroke="#8c8c8c" stroke-width="1"/>
<path d="M506.5,1.8 v3.5 h3.5" fill="none" stroke="#8c8c8c" stroke-width="0.8"/>
<path d="M501,5 q-1.2,3.2 0,6.4" stroke="#666" stroke-width="0.9" fill="none"/>
<path d="M506.4,7.300000000000001 h3.2 v4 h4 v3.2 h-4 v4 h-3.2 v-4 h-4 v-3.2 h4 z" fill="url(#gGreen)" stroke="#0a8414" stroke-width="0.9" stroke-linejoin="miter"/>
<path d="M519.8,8.2 H525.1999999999999 L522.5,11 Z" fill="#000"/>
<path d="M558.8,8.2 H564.1999999999999 L561.5,11 Z" fill="#000"/>
<path d="M598,8.2 H603.4 L600.7,11 Z" fill="#000"/>
<path d="M903.8,8.2 H909.1999999999999 L906.5,11 Z" fill="#000"/>
<circle cx="544" cy="8.8" r="6.4" fill="#f4f6fa" stroke="#1a6ad4" stroke-width="3"/>
<circle cx="544.00" cy="4.80" r="0.35" fill="#8a8a8a"/>
<circle cx="546.00" cy="5.34" r="0.35" fill="#8a8a8a"/>
<circle cx="547.46" cy="6.80" r="0.35" fill="#8a8a8a"/>
<circle cx="548.00" cy="8.80" r="0.35" fill="#8a8a8a"/>
<circle cx="547.46" cy="10.80" r="0.35" fill="#8a8a8a"/>
<circle cx="546.00" cy="12.26" r="0.35" fill="#8a8a8a"/>
<circle cx="544.00" cy="12.80" r="0.35" fill="#8a8a8a"/>
<circle cx="542.00" cy="12.26" r="0.35" fill="#8a8a8a"/>
<circle cx="540.54" cy="10.80" r="0.35" fill="#8a8a8a"/>
<circle cx="540.00" cy="8.80" r="0.35" fill="#8a8a8a"/>
<circle cx="540.54" cy="6.80" r="0.35" fill="#8a8a8a"/>
<circle cx="542.00" cy="5.34" r="0.35" fill="#8a8a8a"/>
<circle cx="544" cy="8.8" r="8" fill="none" stroke="#0f4ea8" stroke-width="0.6"/>
<path d="M544.2,5.2 V9 H546.8" stroke="#222" stroke-width="1.1" fill="none"/>
<rect x="575.4" y="2.4" width="15.6" height="13.2" fill="#fff" stroke="#2d6cc8" stroke-width="1"/>
<rect x="575.4" y="2.4" width="15.6" height="2.2" fill="#4a8ae0"/>
<path d="M575.4,9.6 H591" stroke="#6f9fe0" stroke-width="0.8"/>
<path d="M577.4,8 L580,7.6 L582,6.6 L584.6,7.4 L587,6.6 L589.4,6.4" stroke="#a02010" stroke-width="1.1" fill="none"/>
<path d="M577.8,13.4 L580,12.6 L582.4,13 L585.6,11.2 L588.4,13.4" stroke="#18902a" stroke-width="1.1" fill="none"/>
<path d="M627.2,2 L627.2,13.6 L630,11.2 L632.2,16 L634,15.2 L631.8,10.6 L635.2,10.2 Z" fill="#4a4a4a"/>
<path d="M652,9.3 H658 M661,9.3 H667 M659.4,2.6 V8 M659.4,10.8 V16.8" stroke="#444" stroke-width="1"/>
<path d="M693.4,3 V15.8" stroke="#444" stroke-width="1.1"/>
<path d="M716,9.3 H728" stroke="#444" stroke-width="1.1"/>
<path d="M743.8,15.8 L756,3.6" stroke="#444" stroke-width="1.1"/>
<path d="M770.2,10.8 L780.8,3.2 M771.6,15.2 L783.6,6.8 M773.6,15.8 L781.8,9.8" stroke="#444" stroke-width="1"/>
<path d="M772.8,9.6 L773.2,15.4 M775.2,8 L775.8,13.4 M777.8,6 L778.4,11.4 M780.6,1.2 L782,8.4" stroke="#444" stroke-width="0.9"/>
<path d="M798.8,2.5 H812.8" stroke="#444" stroke-width="1" stroke-dasharray="1 1"/>
<path d="M798.8,5.5 H812.8" stroke="#444" stroke-width="1" stroke-dasharray="1 1"/>
<path d="M798.8,9.5 H812.8" stroke="#444" stroke-width="1" stroke-dasharray="1 1"/>
<path d="M798.8,13.5 H807.8" stroke="#444" stroke-width="1" stroke-dasharray="1 1"/>
</g>
<g font-family="'Liberation Sans', 'Noto Sans CJK SC', sans-serif" fill="#000">
<text x="33.8" y="12.9" font-size="12px" stroke="#000" stroke-width="0.2" textLength="36.2" lengthAdjust="spacingAndGlyphs">新订单</text>
<text x="186.4" y="12.9" font-size="12px" stroke="#000" stroke-width="0.2" textLength="47.2" lengthAdjust="spacingAndGlyphs">自动交易</text>
<text x="780.8" y="18" font-size="6.6px" font-weight="bold" fill="#333">E</text>
<text x="808.6" y="18" font-size="6.6px" font-weight="bold" fill="#333">F</text>
<text x="829.4" y="13.8" font-size="12.4px" fill="#4a4a4a" stroke="#4a4a4a" stroke-width="0.3">A</text>
<rect x="856" y="3.2" width="12" height="12.4" fill="none" stroke="#444" stroke-width="1" stroke-dasharray="1 1"/>
<rect x="855.4" y="2.4" width="2" height="1" fill="#444"/>
<text x="857.6" y="13.8" font-size="11.4px" fill="#4a4a4a" stroke="#4a4a4a" stroke-width="0.3">T</text>
<path d="M886.4,2.8 L889.8,6 H887.8 V7.6 H885 V6 H883 Z" fill="#444"/>
<path d="M886.6,9.4 L888.6,11.6 L892.6,6.6" stroke="#444" stroke-width="1.4" fill="none"/>
<path d="M893.6,15.6 L890.2,12.4 H892.2 V10.8 H895 V12.4 H897 Z" fill="#444"/>
<text x="930" y="13" font-size="10px" text-rendering="geometricPrecision" fill="#222" stroke="#222" stroke-width="0.15" textLength="13" lengthAdjust="spacingAndGlyphs">M1</text>
<text x="958" y="13" font-size="10px" text-rendering="geometricPrecision" fill="#222" stroke="#222" stroke-width="0.15" textLength="13" lengthAdjust="spacingAndGlyphs">M5</text>
<text x="985" y="13" font-size="10px" text-rendering="geometricPrecision" fill="#222" stroke="#222" stroke-width="0.15" textLength="17.5" lengthAdjust="spacingAndGlyphs">M15</text>
<text x="1013" y="13" font-size="10px" text-rendering="geometricPrecision" fill="#222" stroke="#222" stroke-width="0.15" textLength="17.5" lengthAdjust="spacingAndGlyphs">M30</text>
<text x="1043" y="13" font-size="10px" text-rendering="geometricPrecision" fill="#222" stroke="#222" stroke-width="0.15" textLength="12" lengthAdjust="spacingAndGlyphs">H1</text>
<text x="1070" y="13" font-size="10px" text-rendering="geometricPrecision" fill="#222" stroke="#222" stroke-width="0.15" textLength="12.6" lengthAdjust="spacingAndGlyphs">H4</text>
<text x="1099" y="13" font-size="10px" text-rendering="geometricPrecision" fill="#222" stroke="#222" stroke-width="0.15" textLength="12" lengthAdjust="spacingAndGlyphs">D1</text>
<text x="1127" y="13" font-size="10px" text-rendering="geometricPrecision" fill="#222" stroke="#222" stroke-width="0.15" textLength="14.4" lengthAdjust="spacingAndGlyphs">W1</text>
<text x="1153" y="13" font-size="10px" text-rendering="geometricPrecision" fill="#222" stroke="#222" stroke-width="0.15" textLength="15" lengthAdjust="spacingAndGlyphs">MN</text>
</g>
<circle cx="1646.6" cy="6.4" r="4" fill="#f6f8ff" stroke="#2560d0" stroke-width="1.3"/>
<path d="M1643.4,9.4 L1639.4,13.4" stroke="#1f5cd0" stroke-width="2.2" stroke-linecap="round"/>
<path d="M1669.4,6.4 c-3.6,0 -5.8,2 -5.8,4.6 c0,2.2 1.4,3.6 3.2,4.3 l-0.6,2.2 l2.4,-1.8 c4,0.4 6.6,-1.6 6.6,-4.6 c0,-2.6 -2.4,-4.7 -5.8,-4.7 z" fill="#e8e9f2" stroke="#a8a8a8" stroke-width="0.9"/>
<circle cx="1677.4" cy="6" r="8.3" fill="url(#gRed)"/>
<text x="1673.6" y="10.6" font-family="'Liberation Serif', serif" font-size="12.5px" font-weight="bold" fill="#fff">1</text>
</svg>
</body></html>
